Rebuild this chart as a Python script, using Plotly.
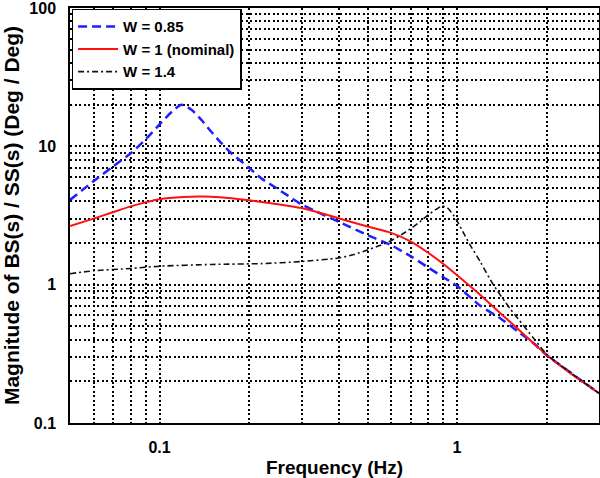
import plotly.graph_objects as go

# ---- data ----
freq_085 = [0.05, 0.06, 0.07, 0.08, 0.09, 0.1, 0.11, 0.1185, 0.128, 0.138, 0.149, 0.161,
            0.174, 0.188, 0.203, 0.219, 0.243, 0.27, 0.3, 0.35, 0.4, 0.5, 0.6, 0.7, 0.8,
            0.9, 1.0, 1.2, 1.4, 1.6, 1.8, 2.0, 2.5, 3.0]
mag_085 = [4.1, 5.6, 7.2, 8.9, 11.3, 14.4, 17.8, 20.0, 18.4, 15.6, 12.8, 10.6,
           8.95, 7.8, 6.8, 5.9, 5.1, 4.4, 3.8, 3.25, 2.85, 2.28, 1.93, 1.6, 1.33,
           1.13, 0.98, 0.70, 0.57, 0.46, 0.38, 0.31, 0.218, 0.164]

freq_1 = [0.05, 0.06, 0.07, 0.08, 0.09, 0.1, 0.12, 0.14, 0.16, 0.2, 0.25, 0.3, 0.35,
          0.4, 0.5, 0.6, 0.7, 0.8, 0.9, 1.0, 1.2, 1.4, 1.6, 1.8, 2.0, 2.5, 3.0]
mag_1 = [2.65, 3.0, 3.35, 3.68, 3.95, 4.15, 4.3, 4.33, 4.28, 4.07, 3.82, 3.58, 3.28,
         3.02, 2.63, 2.37, 2.05, 1.70, 1.41, 1.17, 0.84, 0.62, 0.48, 0.38, 0.31, 0.215, 0.164]

freq_14 = [0.05, 0.06, 0.08, 0.1, 0.15, 0.22, 0.3, 0.4, 0.45, 0.5, 0.55, 0.6, 0.65, 0.7,
           0.75, 0.8, 0.85, 0.89, 0.93, 0.97, 1.0, 1.05, 1.1, 1.2, 1.32, 1.5, 1.6, 1.8,
           2.0, 2.5, 3.0]
mag_14 = [1.2, 1.26, 1.31, 1.36, 1.40, 1.42, 1.47, 1.56, 1.65, 1.78, 1.92, 2.08, 2.3, 2.55,
          2.85, 3.2, 3.5, 3.7, 3.58, 3.2, 2.89, 2.38, 1.98, 1.45, 1.01, 0.68, 0.57, 0.415,
          0.315, 0.218, 0.164]

series_names = ["W = 0.85", "W = 1 (nominal)", "W = 1.4"]

x_grid = [0.05, 0.06, 0.07, 0.08, 0.09, 0.1, 0.2, 0.3, 0.4, 0.5, 0.6, 0.7, 0.8, 0.9, 1, 2, 3]
x_labels = {0.1: "0.1", 1: "1"}
y_grid = [m * 10 ** e for e in (-1, 0, 1) for m in range(1, 10)] + [100]
y_labels = {0.1: "0.1", 1: "1", 10: "10", 100: "100"}

FONT = "Liberation Sans, Arial, Helvetica, sans-serif"

fig = go.Figure()
fig.add_trace(go.Scatter(x=freq_085, y=mag_085, name=series_names[0], mode="lines",
                         line=dict(color="#1f1fff", width=2.5, dash="9px,5px", shape="spline", smoothing=0.6)))
fig.add_trace(go.Scatter(x=freq_1, y=mag_1, name=series_names[1], mode="lines",
                         line=dict(color="#ff1010", width=2, shape="spline", smoothing=0.6)))
fig.add_trace(go.Scatter(x=freq_14, y=mag_14, name=series_names[2], mode="lines",
                         line=dict(color="#111111", width=1.6, dash="6px,3px,2px,3px", shape="spline", smoothing=0.6)))

axis_common = dict(
    showline=True, linecolor="black", linewidth=1.5, mirror=True,
    showgrid=True, gridcolor="black", gridwidth=1.5, griddash="2px,2.5px",
    ticks="outside", ticklen=9, tickcolor="rgba(0,0,0,0)",
    tickfont=dict(family=FONT, size=16, color="black", weight="bold"),
    ticklabeloverflow="allow",
    zeroline=False, automargin=False,
)

fig.update_xaxes(
    type="log", range=[-1.30103, 0.47712],
    tickvals=x_grid, ticktext=[x_labels.get(v, "") for v in x_grid],
    title=dict(text="Frequency (Hz)", standoff=8,
               font=dict(family=FONT, size=19, color="black", weight="bold")),
    **axis_common,
)
fig.update_yaxes(
    type="log", range=[-1, 2],
    tickvals=y_grid, ticktext=[y_labels.get(round(v, 6), "") for v in y_grid],
    title=dict(text="Magnitude of BS(s) / SS(s) (Deg / Deg)", standoff=8,
               font=dict(family=FONT, size=21, color="black", weight="bold")),
    **axis_common,
)

fig.update_layout(
    width=600, height=478,
    margin=dict(l=70, r=1, t=8, b=55),
    paper_bgcolor="white", plot_bgcolor="white",
    showlegend=True,
    legend=dict(x=0.003, y=0.998, xanchor="left", yanchor="top",
                bgcolor="white", bordercolor="black", borderwidth=1.5,
                font=dict(family=FONT, size=15, color="black", weight="bold"),
                itemwidth=40, tracegroupgap=0),
)

fig.write_html("out.html",
               config={"displayModeBar": False},
               post_script="document.body.style.margin='0';document.body.style.overflow='hidden';")
